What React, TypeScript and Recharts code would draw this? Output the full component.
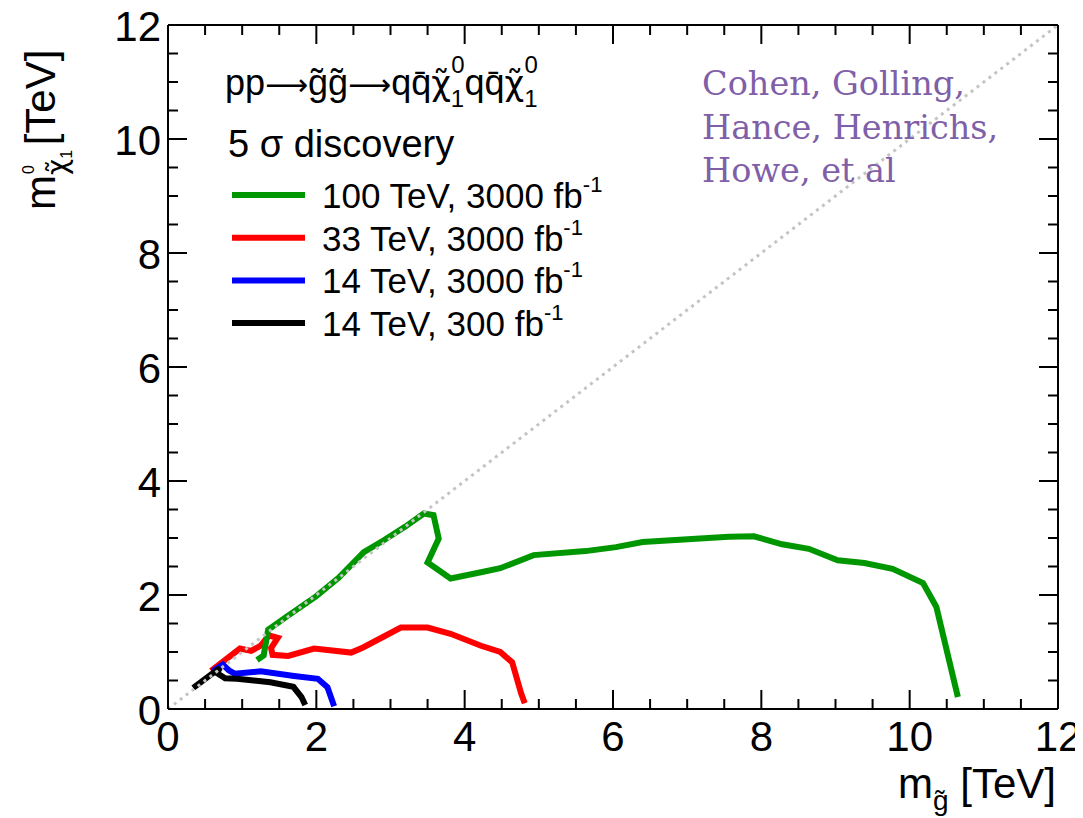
import React from 'react';
import { LineChart, Line, XAxis, YAxis } from 'recharts';

// ---- data (TeV) ----
const green100X = [1.2, 1.29, 1.35, 1.6, 2.0, 2.3, 2.64, 2.91, 3.2, 3.45, 3.58, 3.65, 3.5, 3.81, 4.22, 4.48, 4.93, 5.63, 6.04, 6.4, 7.56, 7.9, 8.28, 8.64, 9.03, 9.39, 9.77, 10.18, 10.36, 10.65];
const green100Y = [0.86, 0.94, 1.39, 1.62, 1.98, 2.3, 2.75, 2.96, 3.2, 3.43, 3.4, 2.99, 2.57, 2.29, 2.4, 2.47, 2.7, 2.77, 2.84, 2.93, 3.02, 3.03, 2.89, 2.81, 2.61, 2.56, 2.46, 2.21, 1.79, 0.21];

const red33X = [0.58, 0.97, 1.12, 1.25, 1.36, 1.48, 1.39, 1.41, 1.62, 1.97, 2.47, 2.63, 3.14, 3.5, 3.81, 4.22, 4.48, 4.64, 4.76, 4.81];
const red33Y = [0.67, 1.06, 1.02, 1.11, 1.29, 1.25, 1.07, 0.95, 0.93, 1.06, 0.99, 1.08, 1.43, 1.43, 1.32, 1.11, 1.0, 0.82, 0.28, 0.1];

const blue14X = [0.6, 0.74, 0.82, 0.9, 1.25, 1.7, 2.02, 2.15, 2.24];
const blue14Y = [0.66, 0.78, 0.68, 0.62, 0.66, 0.58, 0.53, 0.38, 0.05];

const black14X = [0.34, 0.7, 0.66, 0.77, 0.93, 1.38, 1.69, 1.8, 1.85];
const black14Y = [0.37, 0.72, 0.63, 0.54, 0.53, 0.47, 0.39, 0.21, 0.07];

const diagX = [0, 12];
const diagY = [0, 12];

const tickValues = [0, 0.5, 1, 1.5, 2, 2.5, 3, 3.5, 4, 4.5, 5, 5.5, 6, 6.5, 7, 7.5, 8, 8.5, 9, 9.5, 10, 10.5, 11, 11.5, 12];
const majorTicks = [0, 2, 4, 6, 8, 10, 12];

const legendLabels = ['100 TeV, 3000 fb', '33 TeV, 3000 fb', '14 TeV, 3000 fb', '14 TeV, 300 fb'];
const legendColors = ['#009600', '#ff0000', '#0000ff', '#000000'];
const authorLines = ['Cohen, Golling,', 'Hance, Henrichs,', 'Howe, et al'];

const zip = (xs: number[], ys: number[]) => xs.map((x, i) => ({ x, y: ys[i] }));

const greenData = zip(green100X, green100Y);
const redData = zip(red33X, red33Y);
const blueData = zip(blue14X, blue14Y);
const blackData = zip(black14X, black14Y);
const diagData = zip(diagX, diagY);

const FONT = '"Liberation Sans", Arial, Helvetica, sans-serif';
const DJ = '"DejaVu Sans", sans-serif';
const MAJ = 19;
const MIN = 10;

const isMajor = (v: number) => majorTicks.indexOf(v) >= 0;

const BottomTick = (props: any) => {
  const { x, y, payload } = props;
  const v = payload.value;
  const m = isMajor(v);
  return (
    <g>
      <line x1={x} x2={x} y1={y} y2={y - (m ? MAJ : MIN)} stroke="#000" strokeWidth={2} />
      {m && (
        <text x={x} y={y + 42} textAnchor="middle" fontSize={42} fontFamily={FONT} fill="#000">
          {v}
        </text>
      )}
    </g>
  );
};

const TopTick = (props: any) => {
  const { x, y, payload } = props;
  const m = isMajor(payload.value);
  return <line x1={x} x2={x} y1={y} y2={y + (m ? MAJ : MIN)} stroke="#000" strokeWidth={2} />;
};

const LeftTick = (props: any) => {
  const { x, y, payload } = props;
  const v = payload.value;
  const m = isMajor(v);
  return (
    <g>
      <line x1={x} x2={x + (m ? MAJ : MIN)} y1={y} y2={y} stroke="#000" strokeWidth={2} />
      {m && (
        <text x={x - 7} y={y + 16} textAnchor="end" fontSize={42} fontFamily={FONT} fill="#000">
          {v}
        </text>
      )}
    </g>
  );
};

const RightTick = (props: any) => {
  const { x, y, payload } = props;
  const m = isMajor(payload.value);
  return <line x1={x} x2={x - (m ? MAJ : MIN)} y1={y} y2={y} stroke="#000" strokeWidth={2} />;
};

export default function App() {
  return (
    <div style={{ position: 'relative', width: 1075, height: 810, background: '#fff' }}>
      <LineChart width={1075} height={810} margin={{ top: 7, right: 15, left: 100, bottom: 49 }}>
        <XAxis
          xAxisId={0}
          dataKey="x"
          type="number"
          domain={[0, 12]}
          ticks={tickValues}
          interval={0}
          allowDataOverflow
          height={60}
          tickSize={0}
          tickMargin={0}
          tickLine={false}
          axisLine={{ stroke: '#000', strokeWidth: 2 }}
          tick={<BottomTick />}
        />
        <XAxis
          xAxisId="top"
          orientation="top"
          dataKey="x"
          type="number"
          domain={[0, 12]}
          ticks={tickValues}
          interval={0}
          allowDataOverflow
          height={10}
          tickSize={0}
          tickMargin={0}
          tickLine={false}
          axisLine={{ stroke: '#000', strokeWidth: 2 }}
          tick={<TopTick />}
        />
        <YAxis
          yAxisId={0}
          type="number"
          domain={[0, 12]}
          ticks={tickValues}
          interval={0}
          allowDataOverflow
          width={60}
          tickSize={0}
          tickMargin={0}
          tickLine={false}
          axisLine={{ stroke: '#000', strokeWidth: 2 }}
          tick={<LeftTick />}
        />
        <YAxis
          yAxisId="right"
          orientation="right"
          type="number"
          domain={[0, 12]}
          ticks={tickValues}
          interval={0}
          allowDataOverflow
          width={10}
          tickSize={0}
          tickMargin={0}
          tickLine={false}
          axisLine={{ stroke: '#000', strokeWidth: 2 }}
          tick={<RightTick />}
        />
        <Line data={redData} dataKey="y" stroke={legendColors[1]} strokeWidth={6} dot={false} isAnimationActive={false} type="linear" />
        <Line data={greenData} dataKey="y" stroke={legendColors[0]} strokeWidth={6} dot={false} isAnimationActive={false} type="linear" />
        <Line data={blueData} dataKey="y" stroke={legendColors[2]} strokeWidth={6} dot={false} isAnimationActive={false} type="linear" />
        <Line data={blackData} dataKey="y" stroke={legendColors[3]} strokeWidth={6} dot={false} isAnimationActive={false} type="linear" />
        <Line
          data={diagData}
          dataKey="y"
          xAxisId="top"
          yAxisId="right"
          stroke="#c4c4c4"
          strokeWidth={3}
          strokeDasharray="3 4.5"
          dot={false}
          isAnimationActive={false}
          type="linear"
        />
      </LineChart>
      <svg
        width={1075}
        height={810}
        style={{ position: 'absolute', left: 0, top: 0, pointerEvents: 'none' }}
      >
        {/* Y axis title */}
        <text transform="translate(47,202) rotate(-90)" fontSize={42} fontFamily={FONT} fill="#000">
          m
          <tspan fontSize={28} fontFamily={DJ} dy={12}>χ̃</tspan>
          <tspan fontSize={16} dy={5}>1</tspan>
          <tspan fontSize={16} dx={-24} dy={-38}>0</tspan>
          <tspan fontSize={42} dx={8} dy={21}> [TeV]</tspan>
        </text>
        {/* X axis title */}
        <text x={1048} y={790} textAnchor="end" fontSize={42} fontFamily={FONT} fill="#000">
          m
          <tspan fontSize={28} dy={12}>g̃</tspan>
          <tspan fontSize={42} dy={-12}> [TeV]</tspan>
        </text>
        {/* process label */}
        <text x={217} y={87} fontSize={36} fontFamily={FONT} fill="#000">
          pp
          <tspan fontFamily={DJ} fontSize={30}>⟶</tspan>
          <tspan>g̃g̃</tspan>
          <tspan fontFamily={DJ} fontSize={30}>⟶</tspan>
          <tspan>qq̄</tspan>
          <tspan fontFamily={DJ} fontSize={34}>χ̃</tspan>
          <tspan fontSize={24} dy={12}>1</tspan>
          <tspan fontSize={24} dx={-13} dy={-34}>0</tspan>
          <tspan fontSize={36} dy={22}>qq̄</tspan>
          <tspan fontFamily={DJ} fontSize={34}>χ̃</tspan>
          <tspan fontSize={24} dy={12}>1</tspan>
          <tspan fontSize={24} dx={-13} dy={-34}>0</tspan>
        </text>
        <text x={220} y={149} fontSize={38} fontFamily={FONT} fill="#000">
          5 σ discovery
        </text>
        {legendLabels.map((lab, i) => {
          const yy = 187 + i * 42.7;
          return (
            <g key={lab}>
              <line x1={224} x2={297} y1={yy} y2={yy} stroke={legendColors[i]} strokeWidth={6} />
              <text x={314} y={yy + 13} fontSize={35} fontFamily={FONT} fill="#000">
                {lab}
                <tspan fontSize={22} dy={-16}>-1</tspan>
              </text>
            </g>
          );
        })}
        {authorLines.map((t, i) => (
          <text key={t} x={694} y={87 + i * 43.5} fontSize={33.5} fontFamily='"DejaVu Serif", serif' fill="#7f60a8">
            {t}
          </text>
        ))}
      </svg>
    </div>
  );
}
